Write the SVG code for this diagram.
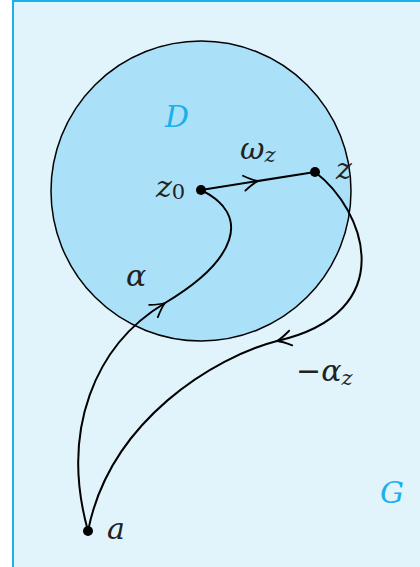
<svg xmlns="http://www.w3.org/2000/svg" width="420" height="567" viewBox="0 0 420 567">
<style>
.m{font-style:italic;font-size:30px;fill:#222}
.s{font-size:21px}
.c{fill:#1ab0ec}
.curve{fill:none;stroke:#000;stroke-width:2}
.ah{fill:none;stroke:#000;stroke-width:1.8;stroke-linecap:round}
</style>
<defs>
<path id="arr" d="M-14,-7.5 Q-5,-1.5 0,0 Q-5,1.5 -14,7.5"/>
</defs>
<rect id="G" x="13" y="1" width="420" height="580" fill="#e1f4fb" stroke="#1ab0ec" stroke-width="2"/>
<g id="D"><circle cx="201" cy="191" r="150" fill="#abe0f9" stroke="#000" stroke-width="1.5"/></g>
<g id="connectors">
<path class="curve" d="M201,190 C252,215 237,260 165,303 C95,345 60,430 88,531"/>
<path class="curve" d="M201,190 L315,172"/>
<path class="curve" d="M315,172 C365,210 402,312 277,341 C215,357 110,420 88,531"/>
<use href="#arr" class="ah" transform="translate(258,181) rotate(-9)"/>
<use href="#arr" class="ah" transform="translate(165,303) rotate(-35)"/>
<use href="#arr" class="ah" transform="translate(277,341) rotate(168)"/>
</g>
<g id="z0"><circle cx="201" cy="190" r="5"/></g>
<g id="z"><circle cx="315" cy="172" r="5"/></g>
<g id="a"><circle cx="88" cy="531" r="5"/></g>
<g id="labels" font-family="'DejaVu Serif', serif">
<text class="m c" x="165" y="127" font-size="28">D</text>
<text class="m c" x="380" y="503" font-size="28">G</text>
<text class="m" x="156" y="197" font-size="28">z<tspan class="s" font-style="normal" dy="2">0</tspan></text>
<text class="m" x="240" y="159" font-size="28">ω<tspan class="s" dy="3">z</tspan></text>
<text class="m" x="336" y="179" font-size="28">z</text>
<text class="m" x="126" y="286" font-size="28">α</text>
<text class="m" x="296" y="381" font-size="28"><tspan font-style="normal">−</tspan>α<tspan class="s" dy="4">z</tspan></text>
<text class="m" x="107" y="539" font-size="28">a</text>
</g>
</svg>
